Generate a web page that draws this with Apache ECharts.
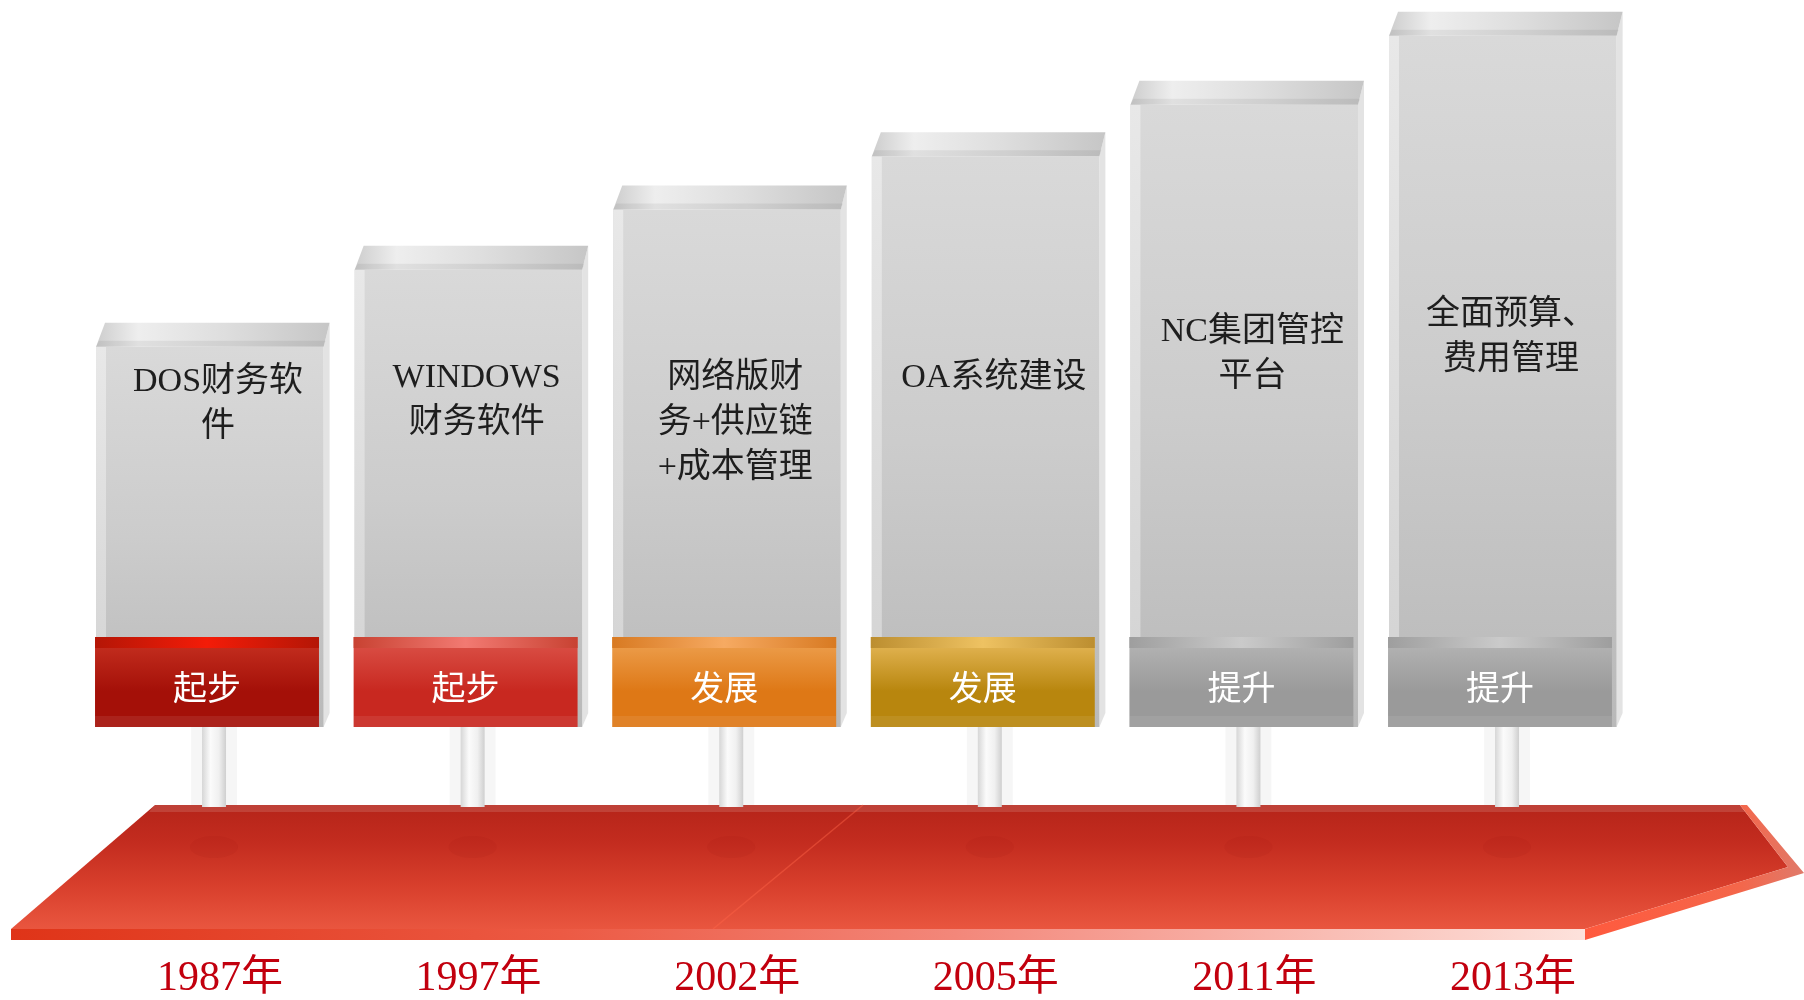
<!DOCTYPE html>
<html>
<head>
<meta charset="UTF-8">
<title>发展历程</title>
<script src="https://cdn.jsdelivr.net/npm/echarts@6/dist/echarts.min.js"></script>
<style>
  html, body { margin: 0; padding: 0; background: #fff; }
  #chart { width: 1804px; height: 1000px; }
</style>
</head>
<body>
<div id="chart"></div>
<script>
// 数据
var years = ['1987年', '1997年', '2002年', '2005年', '2011年', '2013年'];
var stages = ['起步', '起步', '发展', '发展', '提升', '提升'];
var milestones = ['DOS财务软\n件', 'WINDOWS\n财务软件', '网络版财\n务+供应链\n+成本管理', 'OA系统建设', 'NC集团管控\n平台', '全面预算、\n费用管理'];
var levels = [55.6, 66.2, 74.5, 81.8, 88.9, 98.4];

// 样式：标签框颜色 [条纹边, 条纹中, 上, 下]
var boxColors = [
  ['#b41606', '#f41c08', '#c83222', '#a41008'],
  ['#c84232', '#f27a72', '#dc544a', '#c82820'],
  ['#d87a22', '#f6aa62', '#eea252', '#de7816'],
  ['#bc8e30', '#eec262', '#e8ba5c', '#b8860e'],
  ['#9e9e9e', '#cacaca', '#b6b6b6', '#9a9a9a'],
  ['#9e9e9e', '#cacaca', '#b6b6b6', '#9a9a9a']
];
// 文字首行中心 y
var textLineY = [382, 378, 378, 378, 332, 315];

var FONT = '"Liberation Serif", "Noto Sans CJK SC", serif';

function lin(x1, y1, x2, y2, stops) {
  return new echarts.graphic.LinearGradient(x1, y1, x2, y2, stops.map(function (c) {
    return { offset: c[0], color: c[1] };
  }));
}

function renderBar(params, api) {
  var i = params.dataIndex;
  var p = api.coord([api.value(0), api.value(1)]);
  var baseY = api.coord([api.value(0), 0])[1];
  var slot = api.size([1, 0])[0];
  var left = p[0] - slot * 0.433;
  var fw = slot * 0.88;
  var top = p[1];
  var depth = 24;
  var bw = slot * 0.866;
  var c = boxColors[i];
  var poleX = left + 118;

  var children = [
    // 立柱光晕
    { type: 'rect', shape: { x: poleX - 23, y: baseY, width: 46, height: 78 },
      style: { fill: 'rgba(0,0,0,0.035)' } },
    // 立柱
    { type: 'rect', shape: { x: poleX - 12, y: baseY, width: 24, height: 80 },
      style: { fill: lin(0, 0, 1, 0, [[0, '#d6d6d6'], [0.35, '#fbfbfb'], [0.7, '#f0f0f0'], [1, '#cfcfcf']]) } },
    // 底部阴影
    { type: 'ellipse', shape: { cx: poleX, cy: baseY + 120, rx: 24, ry: 11 },
      style: { fill: 'rgba(140,20,10,0.07)' } },
    // 右侧面
    { type: 'polygon', shape: { points: [[left + fw, top + depth], [left + fw + 6, top], [left + fw + 6, baseY - 14], [left + fw, baseY]] },
      style: { fill: '#e3e3e3' } },
    // 正面
    { type: 'rect', shape: { x: left, y: top + depth, width: fw, height: baseY - top - depth },
      style: { fill: lin(0, 0, 0, 1, [[0, '#d9d9d9'], [0.5, '#cccccc'], [1, '#b9b9b9']]) } },
    // 左侧高光
    { type: 'rect', shape: { x: left, y: top + depth, width: 10, height: baseY - top - depth },
      style: { fill: lin(0, 0, 0, 1, [[0, '#e8e8e8'], [1, '#d2d2d2']]) } },
    // 顶面
    { type: 'polygon', shape: { points: [[left + 9, top], [left + fw + 6, top], [left + fw, top + depth], [left, top + depth]] },
      style: { fill: lin(0, 0, 1, 0, [[0, '#cdcdcd'], [0.18, '#eeeeee'], [0.55, '#dedede'], [1, '#c6c6c6']]) } },
    { type: 'polygon', shape: { points: [[left + 3, top + depth - 6], [left + fw + 2, top + depth - 6], [left + fw, top + depth], [left, top + depth]] },
      style: { fill: 'rgba(0,0,0,0.06)' } },
    // 标签框
    { type: 'rect', shape: { x: left - 1, y: baseY - 90, width: bw, height: 90 },
      style: { fill: lin(0, 0, 0, 1, [[0, c[2]], [0.6, c[3]], [1, c[3]]]) } },
    { type: 'rect', shape: { x: left - 1, y: baseY - 90, width: bw, height: 11 },
      style: { fill: lin(0, 0, 1, 0, [[0, c[0]], [0.5, c[1]], [1, c[0]]]) } },
    { type: 'rect', shape: { x: left - 1, y: baseY - 11, width: bw, height: 11 },
      style: { fill: 'rgba(255,255,255,0.08)' } },
    { type: 'text', x: left - 1 + bw / 2, y: baseY - 36,
      style: { text: stages[i], fill: '#ffffff', font: '34px ' + FONT, align: 'center', verticalAlign: 'middle' } },
    // 说明文字
    { type: 'text', x: left + 122, y: textLineY[i] - 22.5,
      style: { text: milestones[i], fill: '#1e1e1e', fontSize: 34, fontFamily: FONT, lineHeight: 45,
        align: 'center', verticalAlign: 'top' } }
  ];
  return { type: 'group', children: children };
}

var chart = echarts.init(document.getElementById('chart'));

var option = {
  backgroundColor: '#ffffff',
  animation: false,
  grid: { left: 78.7, top: 0, width: 1551.6, height: 730 },
  xAxis: {
    type: 'category',
    data: years,
    axisLine: { show: false },
    axisTick: { show: false },
    axisLabel: {
      margin: 231,
      fontSize: 42,
      fontFamily: FONT,
      color: '#c2000e',
      padding: [0, 0, 0, 24]
    }
  },
  yAxis: { type: 'value', min: 0, max: 100, show: false },
  graphic: [
    // 时间轴
    { type: 'polygon', z: 0,
      shape: { points: [[155, 805], [1740, 805], [1788, 867], [1585, 929], [11, 929]] },
      style: { fill: lin(0, 0, 0, 1, [[0, '#b52419'], [0.3, '#c32c1f'], [0.65, '#d83f2c'], [1, '#e9563f']]) } },
    { type: 'polygon', z: 0,
      shape: { points: [[155, 805], [1740, 805], [1746, 812], [149, 812]] },
      style: { fill: 'rgba(255,255,255,0.13)' } },
    { type: 'line', z: 0,
      shape: { x1: 863, y1: 805, x2: 713, y2: 929 },
      style: { stroke: 'rgba(255,100,70,0.45)', lineWidth: 1.5 } },
    { type: 'rect', z: 0,
      shape: { x: 11, y: 929, width: 1574, height: 11 },
      style: { fill: lin(0, 0, 1, 0, [[0, '#df3418'], [0.35, '#ec5a44'], [0.6, '#f3877a'], [1, '#fde2dc']]) } },
    { type: 'polygon', z: 0,
      shape: { points: [[1740, 805], [1747, 805], [1804, 873], [1585, 940], [1585, 929], [1788, 867]] },
      style: { fill: lin(0, 0, 1, 0, [[0, '#ff5a3e'], [0.7, '#f4664a'], [1, '#e07a6a']]) } }
  ],
  series: [{
    type: 'custom',
    renderItem: renderBar,
    clip: false,
    encode: { x: 0, y: 1 },
    data: levels.map(function (v, i) { return [i, v]; })
  }]
};

chart.setOption(option);
</script>
</body>
</html>
